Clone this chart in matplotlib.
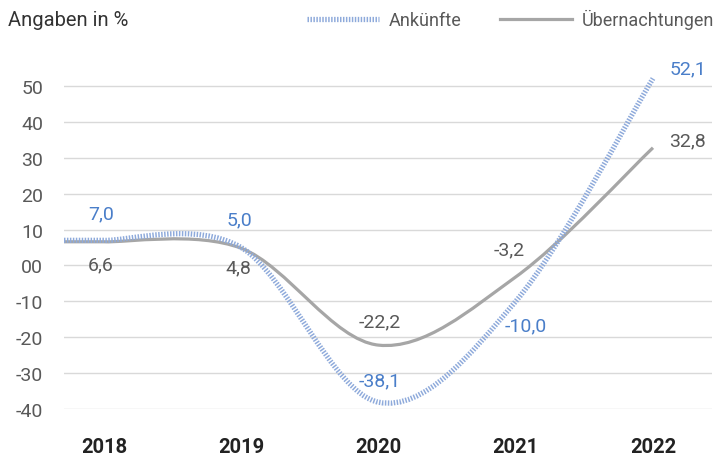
import matplotlib
matplotlib.use("Agg")
import matplotlib.pyplot as plt
from matplotlib.path import Path
from matplotlib.patches import PathPatch
from matplotlib.lines import Line2D

years = ["2018", "2019", "2020", "2021", "2022"]
ankuenfte = [7.0, 5.0, -38.1, -10.0, 52.1]
uebernachtungen = [6.6, 4.8, -22.2, -3.2, 32.8]
y_ticks = [50, 40, 30, 20, 10, 0, -10, -20, -30, -40]
y_tick_labels = ["50", "40", "30", "20", "10", "00", "-10", "-20", "-30", "-40"]

BLUE_LINE = "#8eaadb"
BLUE_TEXT = "#4a7ec9"
GRAY_LINE = "#a6a6a6"
GRAY_TEXT = "#595959"

plt.rcParams["font.family"] = ["Roboto", "DejaVu Sans"]

X_LEFT = -0.291
X_RIGHT = 4.43


def smooth_path(values, x_start):
    """Excel-style smoothed line as cubic Bezier segments (Catmull-Rom),
    with a flat lead-in from the left edge of the plot."""
    pts = [(float(i), v) for i, v in enumerate(values)]
    n = len(pts)
    verts = [(x_start, pts[0][1]), pts[0]]
    codes = [Path.MOVETO, Path.LINETO]
    for i in range(n - 1):
        p0 = pts[max(i - 1, 0)]
        p1 = pts[i]
        p2 = pts[i + 1]
        p3 = pts[min(i + 2, n - 1)]
        c1 = (p1[0] + (p2[0] - p0[0]) / 6, p1[1] + (p2[1] - p0[1]) / 6)
        c2 = (p2[0] - (p3[0] - p1[0]) / 6, p2[1] - (p3[1] - p1[1]) / 6)
        verts += [c1, c2, p2]
        codes += [Path.CURVE4] * 3
    return Path(verts, codes)


fig = plt.figure(figsize=(7.25, 4.64), dpi=100)
ax = fig.add_axes([64 / 725, 54 / 464, 648 / 725, 342 / 464])

ax.set_xlim(X_LEFT, X_RIGHT)
ax.set_ylim(-40, 55.3)

for y in y_ticks:
    ax.axhline(y, color="#d9d9d9", lw=1.0, zorder=0)

ax.add_patch(PathPatch(smooth_path(uebernachtungen, X_LEFT), facecolor="none",
                       edgecolor=GRAY_LINE, lw=2.3, capstyle="butt", zorder=2))
ax.add_patch(PathPatch(smooth_path(ankuenfte, X_LEFT), facecolor="none",
                       edgecolor=BLUE_LINE, lw=3.8, linestyle=(0, (0.28, 0.28)),
                       capstyle="butt", zorder=3))

# data labels (offsets in pixels from the data point)
ank_offsets = [(-3, 27), (-2, 28), (1.5, 22), (10, -24), (35, 10)]
ueb_offsets = [(-3, -23), (-3, -19), (1.5, 24), (-7, 28), (35, 7)]
for i, v in enumerate(ankuenfte):
    ax.annotate(f"{v:.1f}".replace(".", ","), xy=(i, v), xytext=ank_offsets[i],
                textcoords="offset pixels", ha="center", va="center",
                fontsize=14, color=BLUE_TEXT, zorder=5)
for i, v in enumerate(uebernachtungen):
    ax.annotate(f"{v:.1f}".replace(".", ","), xy=(i, v), xytext=ueb_offsets[i],
                textcoords="offset pixels", ha="center", va="center",
                fontsize=14, color=GRAY_TEXT, zorder=5)

ax.set_yticks(y_ticks)
ax.set_yticklabels(y_tick_labels, fontsize=14, color=GRAY_TEXT)
ax.set_xticks(range(len(years)))
ax.set_xticklabels(years, fontsize=14.5, fontweight="bold", color="#222222")
ax.tick_params(axis="y", length=0, pad=15)
ax.tick_params(axis="x", length=0, pad=20)
for s in ax.spines.values():
    s.set_visible(False)

fig.text(8 / 725, 1 - 20 / 464, "Angaben in %", fontsize=14.5,
         color="#333333", ha="left", va="center")

handles = [
    Line2D([], [], color=BLUE_LINE, lw=3.8, linestyle=(0, (0.28, 0.28))),
    Line2D([], [], color=GRAY_LINE, lw=2.3),
]
leg = fig.legend(handles, ["Ankünfte", "Übernachtungen"], loc="center left",
                 bbox_to_anchor=(307 / 725, 1 - 20 / 464), ncol=2, frameon=False,
                 fontsize=13, handlelength=4.0, handletextpad=0.55,
                 columnspacing=2.1, borderpad=0, borderaxespad=0)
for t in leg.get_texts():
    t.set_color(GRAY_TEXT)

fig.savefig("out.png", dpi=100)
